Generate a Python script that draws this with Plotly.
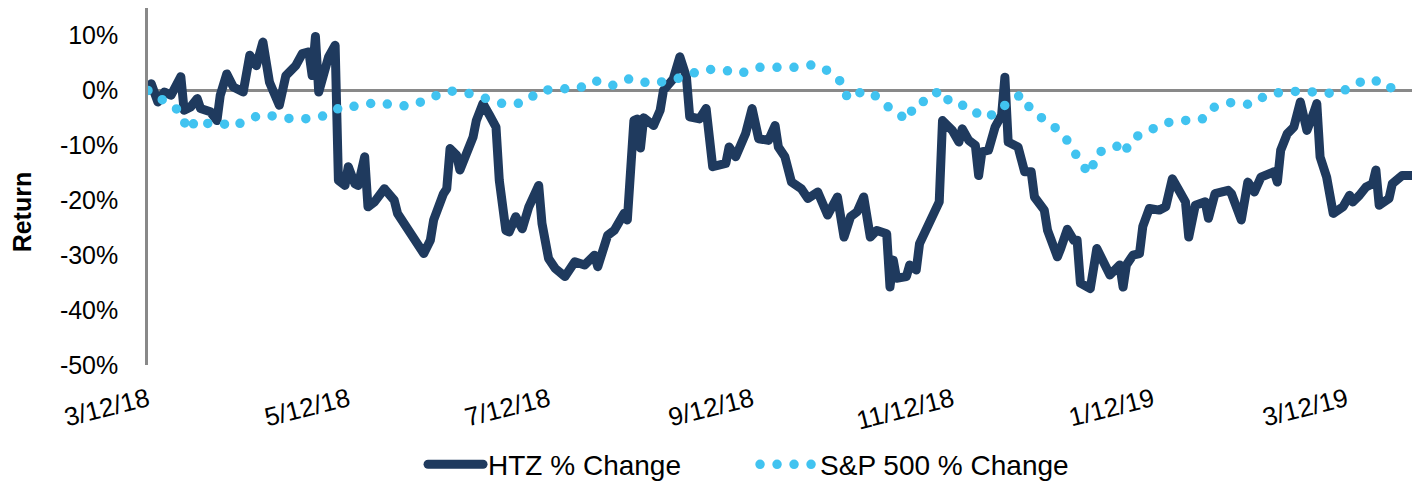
import pandas as pd
import plotly.graph_objects as go

# day offsets from 3/12/18 and % change values
start = pd.Timestamp("2018-03-12")

htz_day = [0, 1, 3, 5, 7, 10, 11, 13, 15, 16, 19, 21, 22, 24, 26, 29, 31, 33, 35, 37,
           40, 42, 45, 47, 49, 50, 51, 52, 55, 57, 58, 60, 61, 63, 64, 66, 67, 69, 72, 75,
           76, 79, 81, 82, 84, 86, 87, 90, 91, 92, 94, 95, 97, 99, 100, 102, 104, 106, 107, 109,
           110, 112, 114, 116, 119, 120, 122, 124, 127, 130, 133, 136, 137, 140, 142, 145, 146, 148, 149, 150,
           151, 154, 156, 157, 160, 162, 164, 165, 168, 170, 172, 176, 177, 179, 182, 184, 186, 189, 191, 192,
           194, 196, 199, 201, 204, 207, 210, 212, 214, 216, 218, 220, 222, 225, 226, 227, 228, 231, 232, 234,
           235, 238, 240, 241, 242, 245, 247, 248, 250, 252, 253, 254, 256, 258, 260, 261, 262, 265, 267, 269,
           270, 273, 274, 277, 278, 280, 282, 283, 284, 287, 289, 291, 293, 296, 297, 298, 300, 302, 303, 305,
           308, 310, 312, 314, 316, 317, 319, 322, 323, 325, 329, 330, 333, 335, 337, 339, 343, 344, 345, 347,
           349, 351, 353, 355, 356, 357, 359, 361, 362, 364, 366, 367, 369, 371, 373, 374, 375, 378, 379, 382,
           385]
htz_pct = [0.0, 1.2, -2.1, -0.3, -0.9, 2.5, -3.6, -3.0, -1.5, -3.3, -3.9, -5.5, -0.9, 3.0, 0.6, -0.3, 6.4, 4.5, 8.8, 1.5,
           -2.7, 2.7, 4.5, 6.7, 7.0, 2.7, 9.8, -0.3, 6.1, 8.2, -16.4, -17.3, -13.9, -17.0, -17.3, -12.1, -21.2, -20.3, -17.9, -20.0,
           -22.4, -25.2, -27.0, -27.6, -29.7, -27.3, -23.6, -18.8, -17.9, -10.6, -11.8, -14.5, -11.8, -8.5, -5.5, -2.4, -4.5, -6.7, -16.4, -25.5,
           -25.8, -23.0, -25.2, -21.2, -17.3, -24.2, -30.6, -32.4, -33.9, -31.2, -31.8, -30.0, -32.1, -26.4, -25.5, -22.4, -23.6, -5.5, -5.2, -10.5,
           -5.0, -6.4, -3.6, 0.0, 2.1, 6.1, 2.4, -4.8, -5.2, -3.3, -13.9, -13.3, -10.3, -12.1, -7.9, -3.3, -8.8, -9.1, -6.4, -10.3,
           -12.1, -16.7, -17.9, -19.7, -18.5, -22.7, -19.4, -26.7, -23.0, -22.1, -19.4, -26.7, -25.5, -26.1, -35.8, -30.9, -34.2, -33.9, -31.8, -32.7,
           -27.9, -24.2, -21.5, -20.3, -5.5, -7.3, -9.4, -7.0, -9.1, -10.0, -15.5, -11.2, -10.9, -6.7, -4.5, 2.4, -9.4, -10.3, -14.8, -14.8,
           -19.4, -21.8, -25.5, -30.3, -28.8, -25.3, -27.3, -27.3, -35.1, -36.1, -28.8, -31.5, -33.6, -31.8, -35.8, -31.8, -30.0, -29.7, -24.8, -21.5,
           -21.8, -21.2, -16.1, -18.2, -20.3, -26.7, -20.9, -20.3, -23.3, -18.8, -18.2, -18.8, -23.6, -16.7, -18.5, -15.8, -14.8, -16.7, -10.9, -7.9,
           -6.7, -2.1, -7.3, -4.2, -2.4, -12.1, -15.8, -22.4, -22.1, -21.2, -19.1, -20.3, -19.1, -17.6, -17.0, -14.5, -20.9, -19.7, -17.0, -15.5,
           -15.5]

spx_day = [0, 6, 10, 12, 15, 19, 23, 26, 30, 35, 40, 45, 51, 55, 59, 64, 70, 76, 81, 86,
           92, 98, 103, 109, 115, 119, 125, 131, 136, 141, 147, 153, 157, 163, 169, 175, 180, 186, 191, 197,
           203, 208, 212, 213, 218, 221, 225, 227, 231, 234, 238, 241, 245, 250, 254, 259, 262, 266, 269, 273,
           277, 281, 284, 287, 289, 295, 297, 300, 306, 310, 315, 321, 324, 330, 336, 341, 346, 352, 358, 363,
           368, 373, 378, 382]
spx_pct = [0.0, -2.3, -3.9, -7.3, -5.3, -6.2, -6.1, -6.7, -5.3, -4.4, -4.7, -5.3, -5.0, -4.4, -2.9, -2.9, -2.1, -2.9, -2.7, -1.3,
           -0.1, -0.6, -1.5, -2.6, -2.2, -0.1, 0.3, 0.3, 1.8, 0.8, 2.2, 1.2, 1.6, 2.4, 3.8, 3.8, 3.0, 4.2, 4.2, 4.2,
           4.7, 3.3, 1.0, -1.5, -0.1, -0.7, -2.9, -3.3, -5.5, -2.2, -1.9, 0.1, -2.6, -2.8, -5.0, -4.1, -2.0, -0.8, -3.6, -5.6,
           -7.1, -9.8, -13.3, -15.2, -11.4, -10.1, -11.6, -8.7, -7.1, -5.9, -5.5, -5.3, -3.2, -2.2, -2.6, -0.7, -0.3, -0.1, -0.5, -0.5,
           1.3, 2.1, 0.3, 1.8]

tick_dates = ["2018-03-12", "2018-05-12", "2018-07-12", "2018-09-12", "2018-11-12", "2019-01-12", "2019-03-12"]
tick_text = ["3/12/18", "5/12/18", "7/12/18", "9/12/18", "11/12/18", "1/12/19", "3/12/19"]
y_ticks = [-50, -40, -30, -20, -10, 0, 10]
y_text = ["-50%", "-40%", "-30%", "-20%", "-10%", "0%", "10%"]

htz_dates = start + pd.to_timedelta(htz_day, unit="D")
spx_dates = start + pd.to_timedelta(spx_day, unit="D")

FONT = "Liberation Sans, Arial, sans-serif"
NAVY = "#1F3A5E"
SKY = "#41C3F0"
AXIS = "#898989"

fig = go.Figure()
fig.add_trace(go.Scatter(x=htz_dates, y=htz_pct, mode="lines", name="HTZ % Change",
                         line=dict(color=NAVY, width=9)))
fig.add_trace(go.Scatter(x=spx_dates, y=spx_pct, mode="lines", name="S&P 500 % Change",
                         line=dict(color=SKY, width=9.5, dash="0px,17px")))

fig.update_xaxes(type="date", range=["2018-03-12", "2019-04-01"],
                 tickvals=tick_dates, ticktext=tick_text, tickangle=-14,
                 showgrid=False, showline=False, zeroline=False, ticks="",
                 ticklabelstandoff=14, automargin=False,
                 tickfont=dict(family=FONT, size=26, color="#000000"))
fig.update_yaxes(range=[-50, 15], tickvals=y_ticks, ticktext=y_text,
                 showgrid=False, showline=True, linecolor=AXIS, linewidth=2.5,
                 zeroline=True, zerolinecolor=AXIS, zerolinewidth=2.5, ticks="",
                 ticklabelstandoff=22, automargin=False,
                 tickfont=dict(family=FONT, size=25, color="#000000"))

fig.add_annotation(text="Return", textangle=-90, xref="paper", yref="paper",
                   x=-0.099, y=0.43, xanchor="center", yanchor="middle", showarrow=False,
                   font=dict(family=FONT, size=25, color="#000000", weight="bold"))

fig.update_layout(
    template="none",
    width=1412, height=490,
    margin=dict(l=148, r=0, t=7.5, b=125, autoexpand=False),
    plot_bgcolor="white", paper_bgcolor="white",
    showlegend=True,
    legend=dict(orientation="h", x=0.2176, xanchor="left", y=-0.349, yanchor="bottom",
                itemwidth=55, entrywidth=262, entrywidthmode="pixels",
                font=dict(family=FONT, size=28, color="#000000"),
                bgcolor="rgba(0,0,0,0)", tracegroupgap=0),
)

# round dots for the dotted S&P line, round joins for the thick HTZ line
round_caps = """
document.body.style.margin = '0';
document.documentElement.style.overflow = 'hidden';
var gd = document.getElementById('{plot_id}');
gd.querySelectorAll('.scatterlayer path, .legend path').forEach(function(p){
  p.style.strokeLinecap = 'round';
  p.style.strokeLinejoin = 'round';
});
"""

fig.write_html("out.html", config={"displayModeBar": False}, post_script=round_caps)
